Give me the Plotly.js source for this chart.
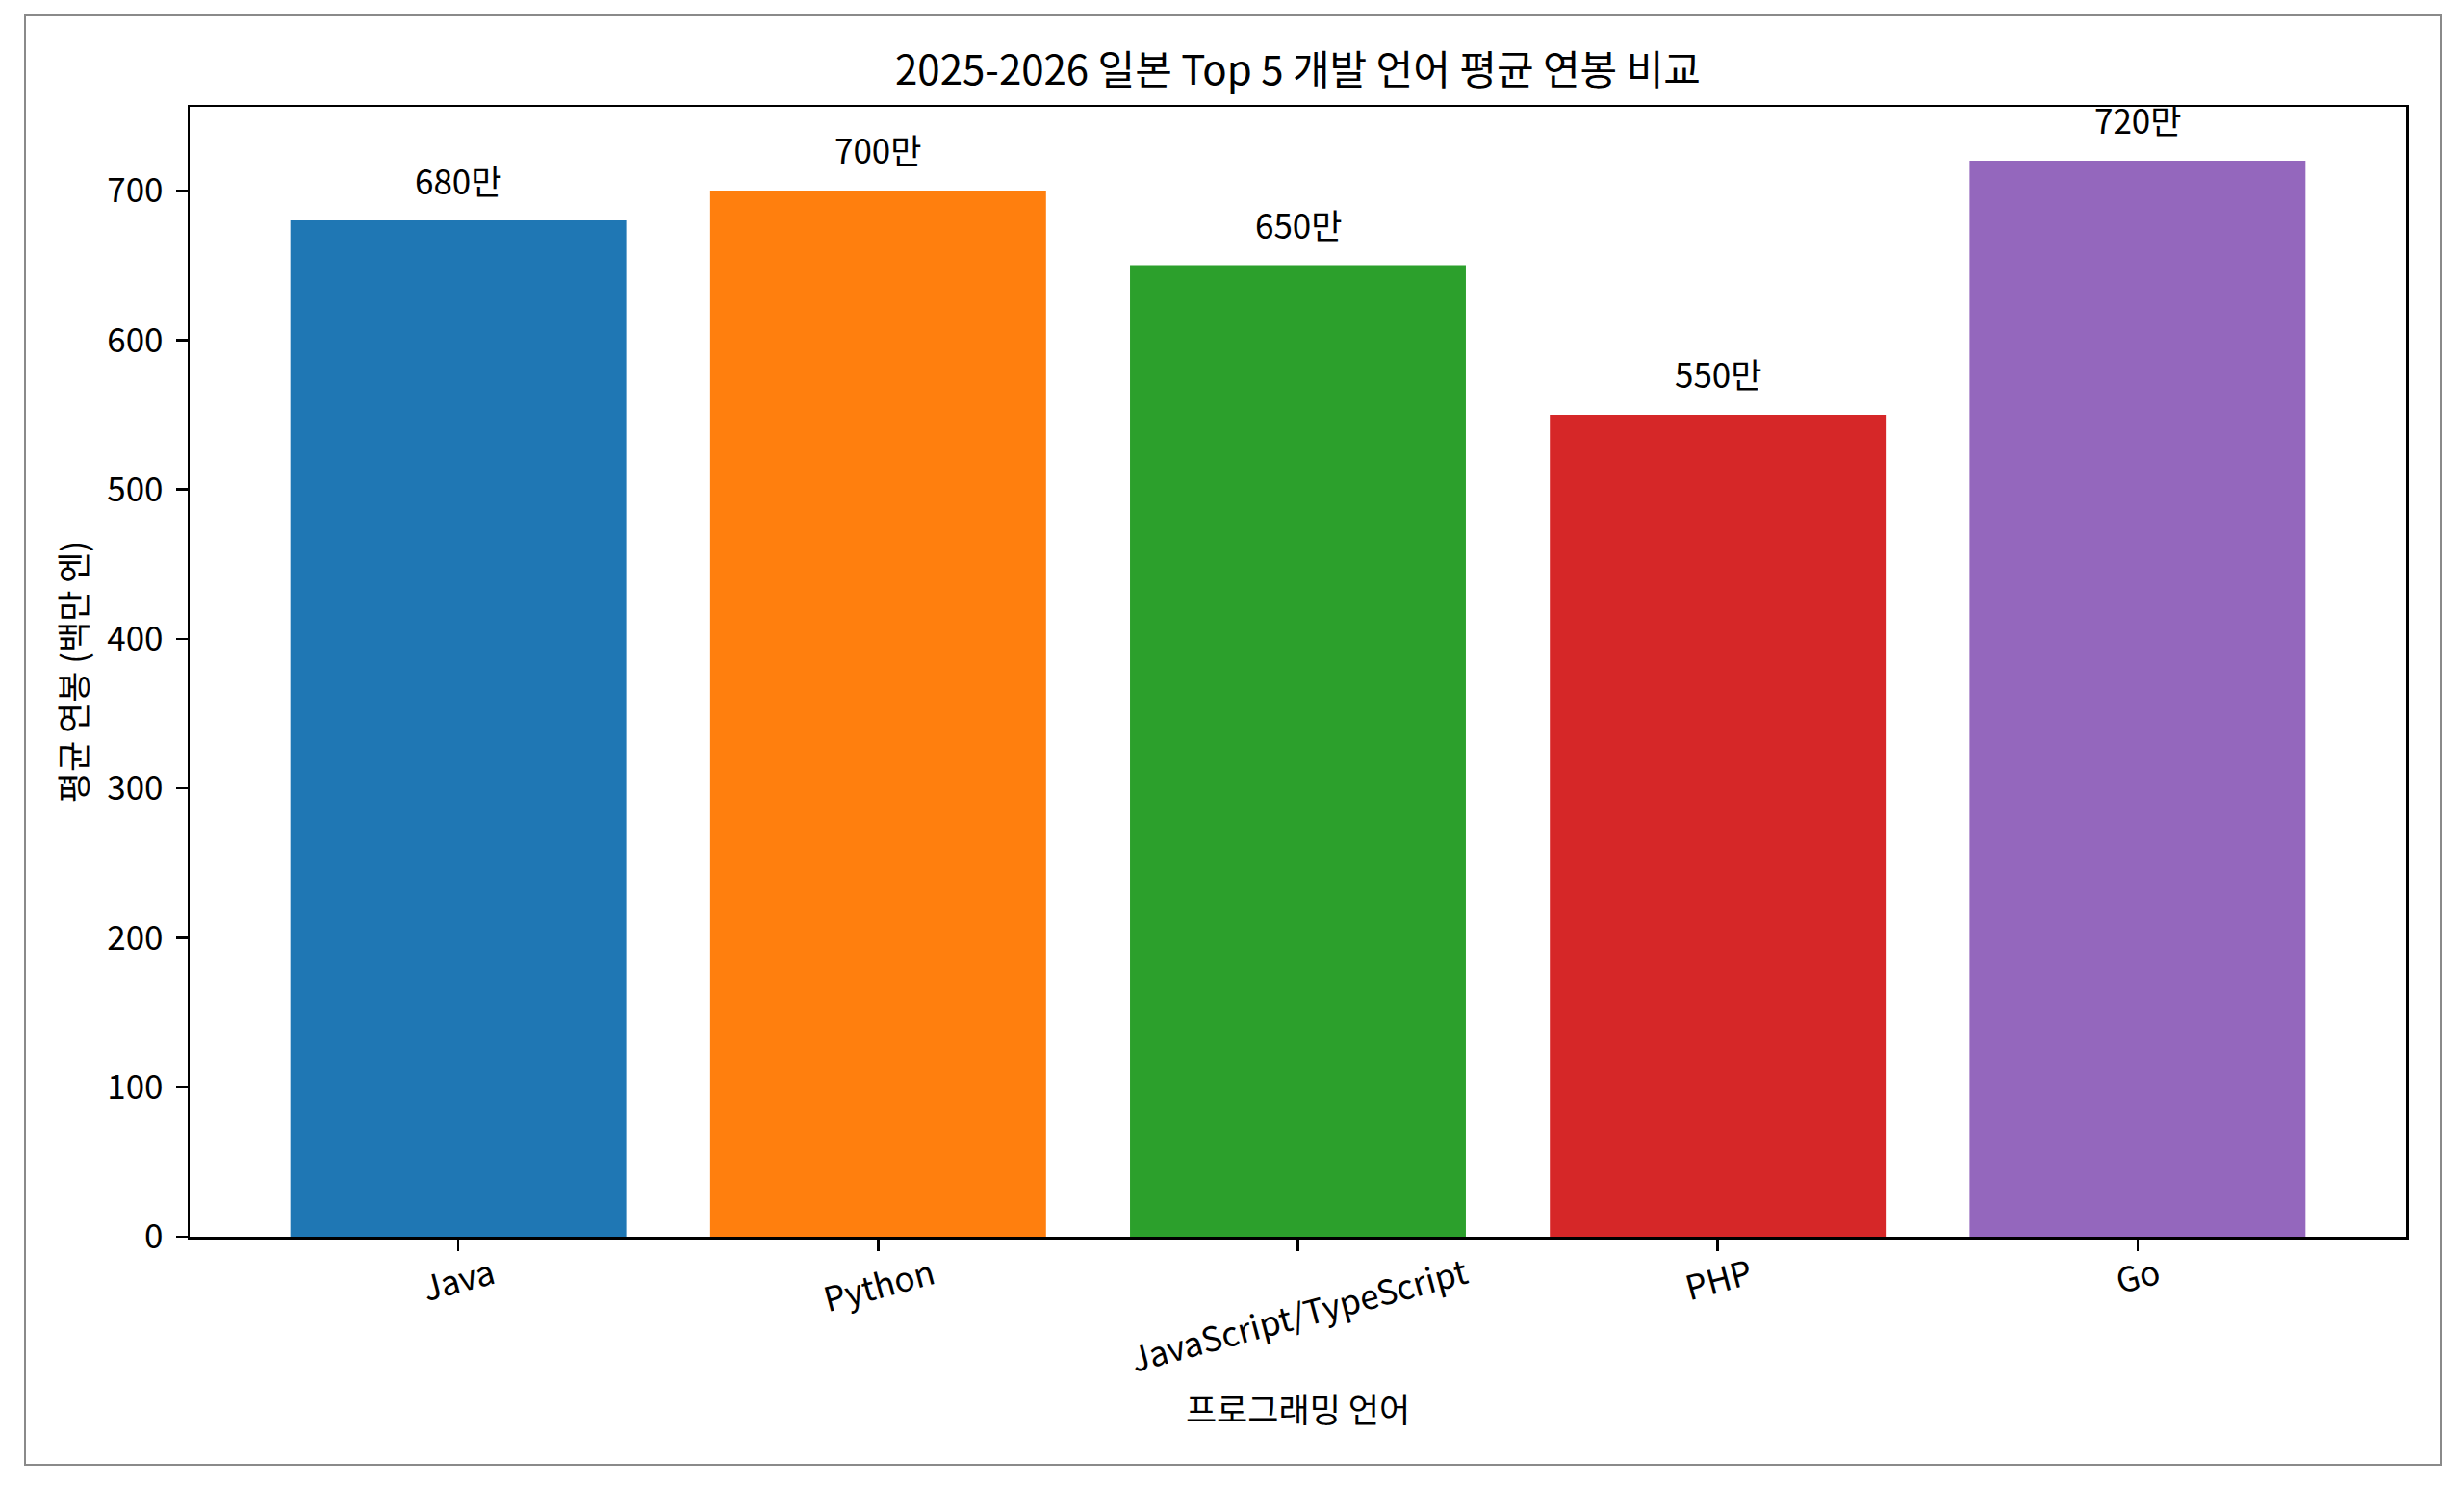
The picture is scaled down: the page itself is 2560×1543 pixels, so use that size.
<!DOCTYPE html>
<html>
<head>
<meta charset="utf-8">
<script src="https://cdn.plot.ly/plotly-3.0.1.min.js"></script>
<style>
    body { margin: 0; background: #ffffff; }
    #frame {
        position: absolute; left: 25px; top: 15px;
        width: 2512px; height: 1508px;
        border: 2px solid #8a8a8a; box-sizing: border-box; background: #ffffff;
    }
    #chart { width: 2508px; height: 1504px; }
</style>
</head>
<body>
<div id="frame"><div id="chart"></div></div>
<script>
"use strict";

// values
var languages = ["Java", "Python", "JavaScript/TypeScript", "PHP", "Go"];
var salaries = [680, 700, 650, 550, 720];
var barColors = ["#1f77b4", "#ff7f0e", "#2ca02c", "#d62728", "#9467bd"];
var yTickValues = [0, 100, 200, 300, 400, 500, 600, 700];
var valueSuffix = "만";

var FONT = "Noto Sans CJK KR, Noto Sans, sans-serif";

function drawSalaryChart() {
    var data = [{
        type: "bar",
        x: languages,
        y: salaries,
        width: 0.8,
        marker: { color: barColors, line: { width: 0 } },
        hoverinfo: "none"
    }];

    var annotations = [];
    // value labels above each bar
    languages.forEach(function(lang, i) {
        annotations.push({
            x: lang, xref: "x",
            y: salaries[i], yref: "y",
            text: salaries[i] + valueSuffix,
            showarrow: false,
            xanchor: "center", yanchor: "middle",
            yshift: 43,
            font: { family: FONT, size: 35, color: "#000000" }
        });
    });
    // rotated category labels, centred under the ticks like matplotlib does
    languages.forEach(function(lang) {
        annotations.push({
            x: lang, xref: "x",
            y: 0, yref: "paper",
            text: lang,
            showarrow: false,
            textangle: -15,
            xanchor: "center", yanchor: "top",
            yshift: -6,
            font: { family: FONT, size: 35, color: "#000000" }
        });
    });

    var layout = {
        width: 2508,
        height: 1504,
        margin: { l: 170, r: 35, t: 94, b: 236 },
        paper_bgcolor: "#ffffff",
        plot_bgcolor: "#ffffff",
        showlegend: false,
        font: { family: FONT, size: 35, color: "#000000" },
        title: {
            text: "2025-2026 일본 Top 5 개발 언어 평균 연봉 비교",
            font: { family: FONT, size: 42, color: "#000000" },
            x: 0.5, xref: "paper", xanchor: "center",
            y: 0.9628, yanchor: "middle"
        },
        xaxis: {
            type: "category",
            range: [-0.64, 4.64],
            showticklabels: false,
            ticks: "outside", ticklen: 12, tickwidth: 2.5, tickcolor: "#000000",
            showline: true, linecolor: "#000000", linewidth: 2.5, mirror: true,
            showgrid: false, zeroline: false,
            title: {
                text: "프로그래밍 언어",
                font: { family: FONT, size: 35, color: "#000000" },
                standoff: 155
            }
        },
        yaxis: {
            range: [0, 756],
            tickvals: yTickValues,
            ticks: "outside", ticklen: 12, tickwidth: 2.5, tickcolor: "#000000",
            ticklabelstandoff: 6,
            tickfont: { family: FONT, size: 35, color: "#000000" },
            showline: true, linecolor: "#000000", linewidth: 2.5, mirror: true,
            showgrid: false, zeroline: false,
            title: {
                text: "평균 연봉 (백만 엔)",
                font: { family: FONT, size: 35, color: "#000000" },
                standoff: 10
            }
        },
        annotations: annotations
    };

    Plotly.newPlot("chart", data, layout, { staticPlot: true, displayModeBar: false });
}

drawSalaryChart();
</script>
</body>
</html>
